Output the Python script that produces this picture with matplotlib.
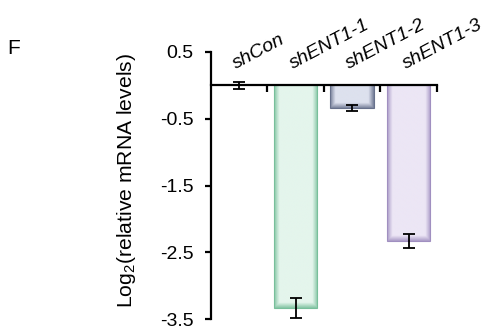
import numpy as np
import matplotlib
matplotlib.use("Agg")
import matplotlib.pyplot as plt
from matplotlib.colors import to_rgb

plt.rcParams['font.family'] = ['Liberation Sans', 'DejaVu Sans']
plt.rcParams['mathtext.fontset'] = 'custom'
plt.rcParams['mathtext.rm'] = 'Liberation Sans'
plt.rcParams['mathtext.it'] = 'Liberation Sans:italic'

categories = ['shCon', 'shENT1-1', 'shENT1-2', 'shENT1-3']
values = [0.0, -3.33, -0.34, -2.33]
errors = [0.05, 0.15, 0.05, 0.10]
edge_colors = ['#ffffff', '#78bf9b', '#67718c', '#a08fc0']
center_colors = ['#ffffff', '#e4f5ec', '#dde1ee', '#ece6f5']
yticks = [0.5, -0.5, -1.5, -2.5, -3.5]

fig = plt.figure(figsize=(4.96, 3.29), dpi=100)
ax = fig.add_axes([0.425, 0.030, 0.456, 0.812])

x = np.arange(len(categories))
bars = ax.bar(x, values, width=0.77, color='none', edgecolor='none', zorder=2)

for b, ec, cc, v in zip(bars, edge_colors, center_colors, values):
    if abs(v) < 1e-6:
        continue
    x0, w = b.get_x(), b.get_width()
    y0, h = b.get_y(), b.get_height()
    ylo, yhi = min(y0, y0 + h), max(y0, y0 + h)
    nx, ny = 60, 300
    u = np.linspace(0, 1, nx)
    yy = np.linspace(ylo, yhi, ny)
    side = np.clip(np.minimum(u, 1 - u) / 0.12, 0, 1)
    bottom = np.clip((yy - ylo) / 0.08, 0, 1)
    t = np.minimum(side[None, :], bottom[:, None])
    t = 0.15 + 0.85 * t
    c0 = np.array(to_rgb(ec)); c1 = np.array(to_rgb(cc))
    img = c0[None, None, :] * (1 - t[..., None]) + c1[None, None, :] * t[..., None]
    im = ax.imshow(img, extent=[x0, x0 + w, ylo, yhi], origin='lower',
                   aspect='auto', zorder=2, interpolation='bilinear')
    im.set_clip_path(b)
    ax.add_patch(plt.Rectangle((x0, ylo), w, yhi - ylo, fill=False,
                               edgecolor=ec, linewidth=0.8, zorder=3))

ax.errorbar(x, values, yerr=errors, fmt='none', ecolor='black',
            elinewidth=1.3, capsize=4.5, capthick=1.3, zorder=4)

ax.set_xlim(-0.5, 3.5)
ax.set_ylim(-3.5, 0.5)
ax.set_yticks(yticks)
ax.set_yticklabels([str(t) for t in yticks], fontsize=14)
ax.spines['top'].set_visible(False)
ax.spines['right'].set_visible(False)
ax.spines['left'].set_linewidth(1.6)
ax.spines['bottom'].set_position(('data', 0))
ax.spines['bottom'].set_linewidth(1.6)
ax.spines['bottom'].set_zorder(5)
ax.tick_params(axis='y', direction='out', length=4.5, width=1.6, pad=8)
ax.set_xticks(np.arange(0.5, 4, 1))
ax.set_xticklabels([])
ax.tick_params(axis='x', direction='out', length=5, width=1.6)

for xi, lab in zip(x, categories):
    ax.text(xi - 0.05, 0.24, lab, rotation=28, rotation_mode='anchor',
            ha='left', va='baseline', fontsize=14, style='italic')

ax.set_ylabel('Log$_2$(relative mRNA levels)', fontsize=15.2)
ax.yaxis.set_label_coords(-0.322, 0.519)
fig.text(0.014, 0.836, 'F', fontsize=15)

fig.savefig('out.png', dpi=100)
